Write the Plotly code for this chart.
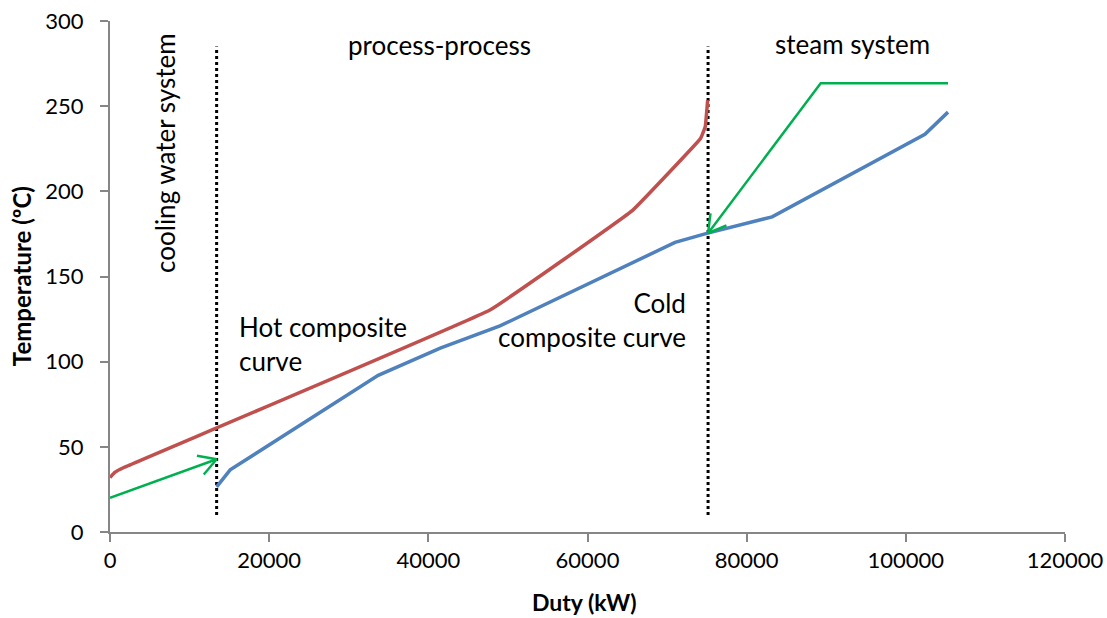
import math
import plotly.graph_objects as go

# Hot composite curve (duty kW, temperature °C)
hot_duty = [0, 600, 1800, 47800, 65700, 74200, 74800, 75100]
hot_temp = [32, 35, 38, 130.5, 189, 231, 238, 253.5]

# Cold composite curve
cold_duty = [13400, 15100, 33700, 41500, 49000, 71000, 75100, 83200, 102400, 105300]
cold_temp = [26.5, 36.5, 92, 108, 121, 170, 175.5, 185, 233.5, 246.5]

# Utility arrows: cooling water (left) and steam (right)
cw_duty = [0, 13400]
cw_temp = [20, 42.7]
steam_duty = [105300, 89300, 75150]
steam_temp = [263.4, 263.4, 175.4]

# Region boundaries
boundary_duty = [13400, 75150]
boundary_temp = [10, 285]

X_RANGE = [0, 120000]
Y_RANGE = [0, 300]
W, H = 1107, 618
M = dict(l=110, r=42, t=21, b=86)

RED = "#C0504D"
BLUE = "#4F81BD"
GREEN = "#00B050"
FONT = "Lato"

px_per_x = (W - M["l"] - M["r"]) / (X_RANGE[1] - X_RANGE[0])
px_per_y = (H - M["t"] - M["b"]) / (Y_RANGE[1] - Y_RANGE[0])


def open_head(x0, y0, x1, y1, length=20, angle=30):
    """Two barbs of an open arrowhead at (x1, y1), pointing from (x0, y0)."""
    dx = (x0 - x1) * px_per_x
    dy = (y0 - y1) * px_per_y
    n = math.hypot(dx, dy)
    ux, uy = dx / n, dy / n
    xs, ys = [], []
    for s in (1, -1):
        a = math.radians(angle) * s
        bx = ux * math.cos(a) - uy * math.sin(a)
        by = ux * math.sin(a) + uy * math.cos(a)
        xs += [x1 + bx * length / px_per_x, x1, None]
        ys += [y1 + by * length / px_per_y, y1, None]
    return xs, ys


fig = go.Figure()

for xb in boundary_duty:
    fig.add_trace(go.Scatter(x=[xb, xb], y=boundary_temp, mode="lines",
                             line=dict(color="black", width=3, dash="dot"),
                             hoverinfo="skip"))

fig.add_trace(go.Scatter(x=hot_duty, y=hot_temp, mode="lines",
                         line=dict(color=RED, width=3.5, shape="spline", smoothing=0.2),
                         name="Hot composite curve"))
fig.add_trace(go.Scatter(x=cold_duty, y=cold_temp, mode="lines",
                         line=dict(color=BLUE, width=3.5),
                         name="Cold composite curve"))

for xs, ys in ((cw_duty, cw_temp), (steam_duty, steam_temp)):
    fig.add_trace(go.Scatter(x=xs, y=ys, mode="lines",
                             line=dict(color=GREEN, width=2.5), hoverinfo="skip"))
    hx, hy = open_head(xs[-2], ys[-2], xs[-1], ys[-1])
    fig.add_trace(go.Scatter(x=hx, y=hy, mode="lines",
                             line=dict(color=GREEN, width=2.5), hoverinfo="skip"))

txt = dict(family=FONT, size=26, color="black")
anns = [
    dict(x=6900, y=222.5, text="cooling water system", textangle=-90),
    dict(x=41460, y=286, text="process-process"),
    dict(x=93360, y=286.5, text="steam system"),
    dict(x=16000, y=110.5, text="Hot composite<br>curve", xanchor="left", align="left"),
    dict(x=72600, y=124.5, text="Cold<br>composite curve", xanchor="right", align="right"),
]
for a in anns:
    a.setdefault("xanchor", "center")
    fig.add_annotation(xref="x", yref="y", showarrow=False, font=txt, yanchor="middle", **a)

# Axis titles
title_font = dict(family=FONT, size=23, color="black")
fig.add_annotation(xref="paper", yref="paper", x=0.497, y=-0.137, showarrow=False,
                   text="<b>Duty (kW)</b>", font=title_font,
                   xanchor="center", yanchor="middle")
fig.add_annotation(xref="paper", yref="paper", x=-0.092, y=0.501, showarrow=False,
                   text="<b>Temperature (ºC)</b>", font=dict(title_font, size=24), textangle=-90,
                   xanchor="center", yanchor="middle")

axis_common = dict(showgrid=False, zeroline=False, showline=True, linecolor="#868686",
                   linewidth=2, ticks="outside", ticklen=8, tickcolor="#868686",
                   tickwidth=1.5, automargin=False,
                   tickfont=dict(family=FONT, size=22, color="black"))

fig.update_xaxes(range=X_RANGE, dtick=20000, tickformat="d", **axis_common)
fig.update_yaxes(range=Y_RANGE, dtick=50, ticklabelstandoff=12, **axis_common)

fig.update_layout(width=W, height=H, margin=M, showlegend=False,
                  plot_bgcolor="white", paper_bgcolor="white")

fig.write_html("out.html")
